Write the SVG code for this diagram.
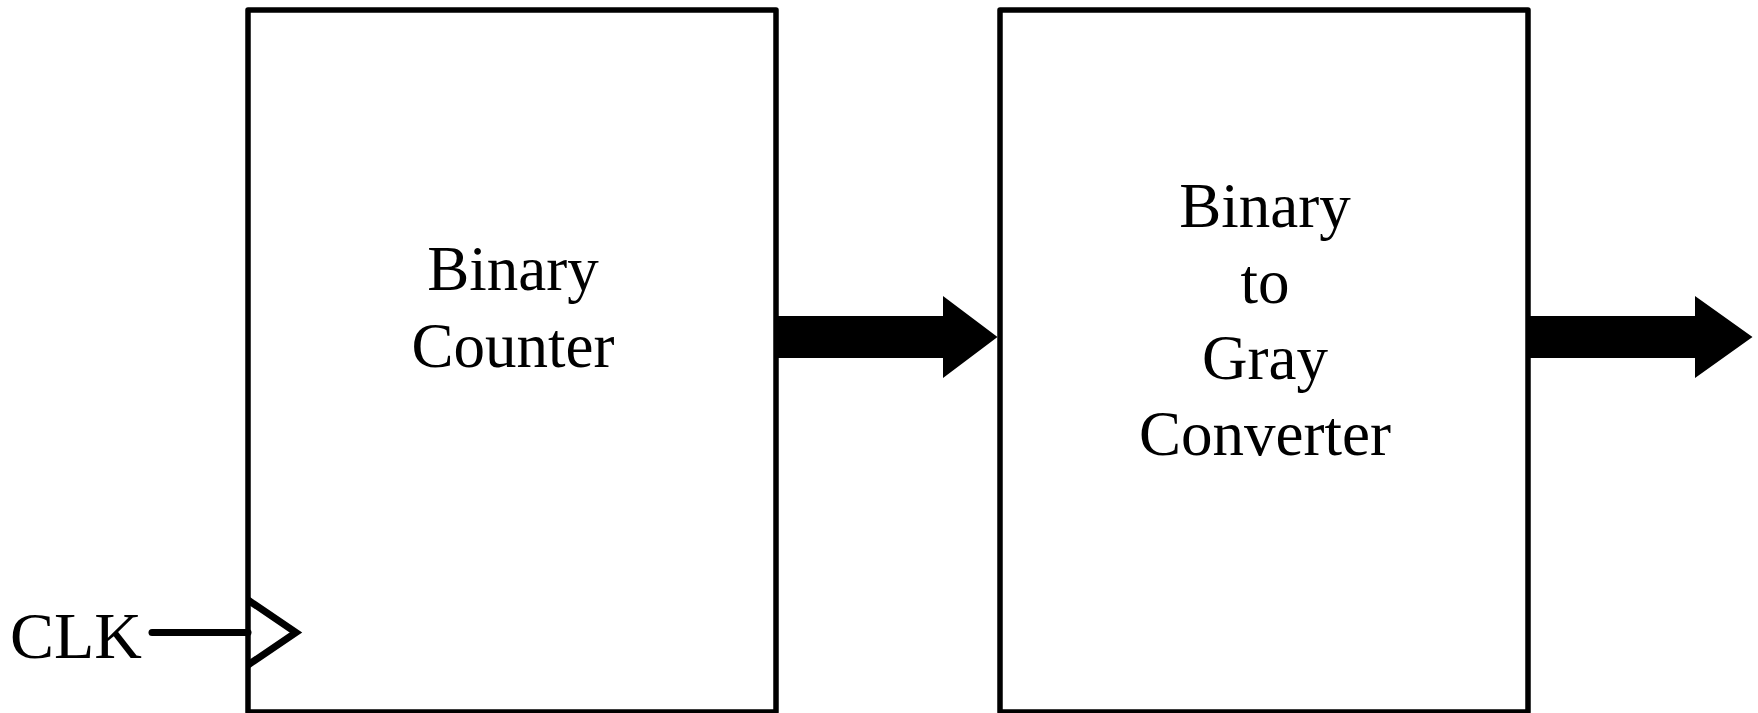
<svg xmlns="http://www.w3.org/2000/svg" width="1758" height="713" viewBox="0 0 1758 713">
<style>
.box{fill:#fff;stroke:#000;stroke-width:5.5;stroke-linejoin:round}
.lbl{font-family:"Liberation Serif","Times New Roman",serif;font-size:63px;fill:#000;text-anchor:middle}
.bus{fill:#000;stroke:none}
.wire{fill:none;stroke:#000;stroke-width:7}
</style>
<rect width="1758" height="713" fill="#fff"/>
<g id="counter">
<rect class="box" x="248" y="10" width="528" height="702"/>
<text class="lbl" x="513" y="290">Binary</text>
<text class="lbl" x="513" y="367">Counter</text>
<polyline class="wire" points="248,600 296,632.5 248,665" stroke-linejoin="miter"/>
</g>
<g id="converter">
<rect class="box" x="1000" y="10" width="528" height="702"/>
<text class="lbl" x="1265" y="227">Binary</text>
<text class="lbl" x="1265" y="303">to</text>
<text class="lbl" x="1265" y="379">Gray</text>
<text class="lbl" x="1265" y="455">Converter</text>
</g>
<g id="clk">
<text x="10" y="658" font-family="Liberation Serif, Times New Roman, serif" font-size="66">CLK</text>
</g>
<g id="connectors">
<line class="wire" x1="152" y1="632.5" x2="248" y2="632.5" stroke-linecap="round"/>
<polygon class="bus" points="778,316 943,316 943,296 997.5,337 943,378 943,358 778,358"/>
<polygon class="bus" points="1530,316 1695,316 1695,296 1752.5,337 1695,378 1695,358 1530,358"/>
</g>
</svg>
